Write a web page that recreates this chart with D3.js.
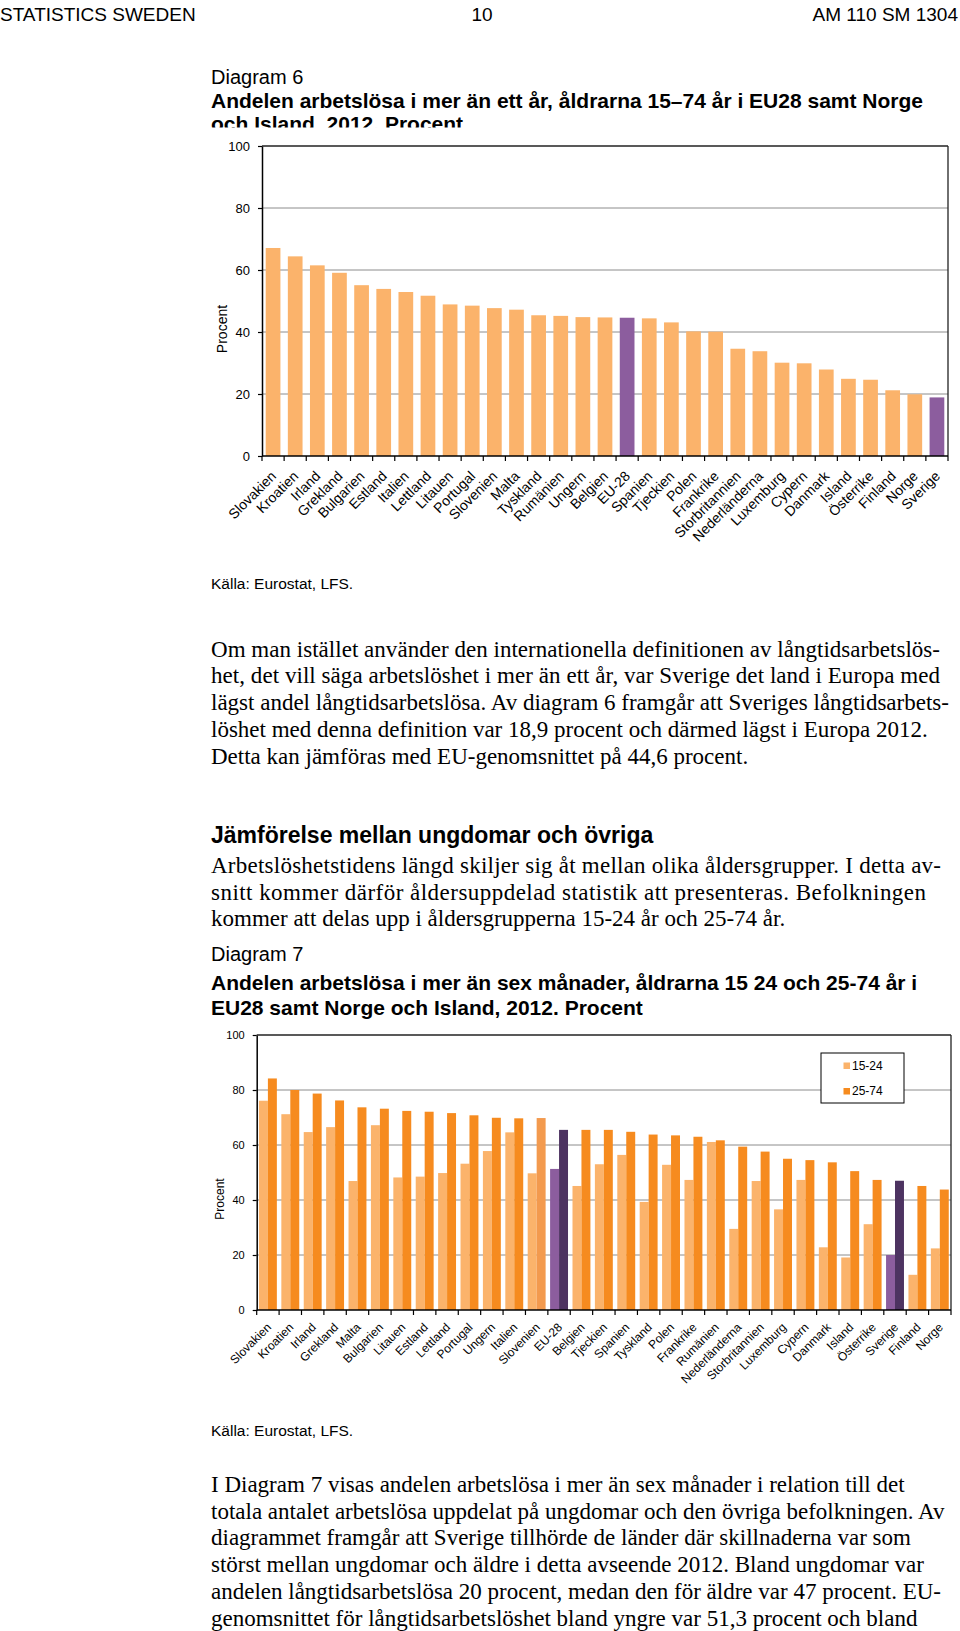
<!DOCTYPE html>
<html><head><meta charset="utf-8">
<script src="https://cdn.jsdelivr.net/npm/d3@7"></script>
<style>body{margin:0;background:#fff} svg{display:block}</style>
</head><body>
<svg id="page" width="960" height="1631"></svg>
<script>
// ---------- DATA ----------
const countries6 = ["Slovakien","Kroatien","Irland","Grekland","Bulgarien","Estland","Italien","Lettland","Litauen","Portugal","Slovenien","Malta","Tyskland","Rumänien","Ungern","Belgien","EU-28","Spanien","Tjeckien","Polen","Frankrike","Storbritannien","Nederländerna","Luxemburg","Cypern","Danmark","Island","Österrike","Finland","Norge","Sverige"];
const values6 = [67.1,64.4,61.5,59.1,55.1,53.9,52.9,51.7,48.9,48.5,47.7,47.2,45.4,45.2,44.8,44.7,44.6,44.4,43.1,40.2,40.1,34.6,33.8,30.1,29.9,27.9,24.9,24.6,21.2,19.9,18.9];
const highlight6 = ["EU-28","Sverige"];

const countries7 = ["Slovakien","Kroatien","Irland","Grekland","Malta","Bulgarien","Litauen","Estland","Lettland","Portugal","Ungern","Italien","Slovenien","EU-28","Belgien","Tjeckien","Spanien","Tyskland","Polen","Frankrike","Rumänien","Nederländerna","Storbritannien","Luxemburg","Cypern","Danmark","Island","Österrike","Sverige","Finland","Norge"];
const youth7 = [76.1,71.2,64.7,66.5,46.9,67.2,48.2,48.5,49.8,53.2,57.8,64.6,49.7,51.3,45.1,53.0,56.4,39.3,52.8,47.3,61.1,29.5,46.9,36.6,47.3,22.8,19.1,31.2,20.0,12.8,22.4];
const adult7 = [84.2,80.0,78.7,76.2,73.7,73.2,72.4,72.1,71.6,70.8,69.9,69.7,69.8,65.5,65.5,65.5,64.8,63.8,63.5,63.0,61.7,59.4,57.6,55.0,54.5,53.7,50.5,47.3,47.0,45.1,43.8];
const series7 = ["15-24","25-74"];
const highlight7 = ["EU-28","Sverige"];
const softAdult7 = ["Slovenien"];
const yTicks = [0,20,40,60,80,100];

// ---------- TEXT ----------
const header = ["STATISTICS SWEDEN","10","AM 110 SM 1304"];
const diag6Title = ["Diagram 6","Andelen arbetslösa i mer än ett år, åldrarna 15–74 år i EU28 samt Norge","och Island, 2012. Procent"];
const source = "Källa: Eurostat, LFS.";
const para1 = ["Om man istället använder den internationella definitionen av långtidsarbetslös-","het, det vill säga arbetslöshet i mer än ett år, var Sverige det land i Europa med","lägst andel långtidsarbetslösa. Av diagram 6 framgår att Sveriges långtidsarbets-","löshet med denna definition var 18,9 procent och därmed lägst i Europa 2012.","Detta kan jämföras med EU-genomsnittet på 44,6 procent."];
const heading2 = "Jämförelse mellan ungdomar och övriga";
const para2 = ["Arbetslöshetstidens längd skiljer sig åt mellan olika åldersgrupper. I detta av-","snitt kommer därför åldersuppdelad statistik att presenteras. Befolkningen","kommer att delas upp i åldersgrupperna 15-24 år och 25-74 år."];
const diag7Title = ["Diagram 7","Andelen arbetslösa i mer än sex månader, åldrarna 15 24 och 25-74 år i","EU28 samt Norge och Island, 2012. Procent"];
const para3 = ["I Diagram 7 visas andelen arbetslösa i mer än sex månader i relation till det","totala antalet arbetslösa uppdelat på ungdomar och den övriga befolkningen. Av","diagrammet framgår att Sverige tillhörde de länder där skillnaderna var som","störst mellan ungdomar och äldre i detta avseende 2012. Bland ungdomar var","andelen långtidsarbetslösa 20 procent, medan den för äldre var 47 procent. EU-","genomsnittet för långtidsarbetslöshet bland yngre var 51,3 procent och bland"];
// justified line widths (null = natural)
const fit1 = [729,729,null,null,null];
const fit2 = [730,715,null];

// ---------- STYLE ----------
const SANS = "'Liberation Sans', Arial, Helvetica, sans-serif";
const SERIF = "'Liberation Serif', 'Times New Roman', serif";
const C_LIGHT = "#fbb36b", C_DARK = "#f68b1f", C_SOFT = "#f39a4e";
const C_PURPLE = "#8c5d9e", C_PURPLE_DARK = "#4d3361";
const GRID = "#8c8c8c";

const svg = d3.select("#page");
svg.append("rect").attr("width",960).attr("height",1631).attr("fill","#fff");

function txt(x,y,s,size,opt={}){
  const t = svg.append("text").attr("x",x).attr("y",y).text(s)
    .attr("font-family",opt.family||SANS).attr("font-size",size)
    .attr("font-weight",opt.bold?"bold":"normal")
    .attr("text-anchor",opt.anchor||"start").attr("fill","#000");
  if(opt.fit) t.attr("textLength",opt.fit).attr("lengthAdjust","spacing");
  return t;
}
function lines(arr,x,y0,lh,size,opt,fits){
  arr.forEach((s,i)=>txt(x,y0+i*lh,s,size,Object.assign({},opt,{fit:fits?fits[i]:null})));
}

// header
txt(0,21,header[0],19);
txt(482,21,header[1],19,{anchor:"middle"});
txt(958,21,header[2],19,{anchor:"end"});

// Diagram 6 title
txt(211,84,diag6Title[0],20);
txt(211,108,diag6Title[1],21,{bold:true});
txt(211,131,diag6Title[2],21,{bold:true});
// chart picture background clips the title
svg.append("rect").attr("x",195).attr("y",127.5).attr("width",765).attr("height",440).attr("fill","#fff");

// ---------- CHART helpers ----------
function grid(g,L,R,y){
  g.selectAll(".grid").data(yTicks.filter(t=>t>0&&t<100)).join("line")
    .attr("x1",L).attr("x2",R).attr("y1",d=>y(d)).attr("y2",d=>y(d))
    .attr("stroke",GRID).attr("stroke-width",1);
}
function borders(g,L,R,T,B,y,tickFont,xScale,n){
  g.append("line").attr("x1",L).attr("x2",R).attr("y1",T).attr("y2",T).attr("stroke","#222").attr("stroke-width",1.3);
  g.append("line").attr("x1",R).attr("x2",R).attr("y1",T).attr("y2",B).attr("stroke","#222").attr("stroke-width",1.3);
  const ax = g.append("g").attr("transform",`translate(${L},0)`)
    .call(d3.axisLeft(y).tickValues(yTicks).tickSize(4).tickSizeOuter(0).tickPadding(8));
  ax.select(".domain").attr("stroke","#000").attr("stroke-width",1.5);
  ax.selectAll(".tick line").attr("stroke","#000").attr("stroke-width",1.2);
  ax.selectAll(".tick text").attr("font-family",SANS).attr("font-size",tickFont).attr("fill","#000");
  g.append("line").attr("x1",L).attr("x2",R).attr("y1",B).attr("y2",B).attr("stroke","#000").attr("stroke-width",1.5);
  const step = xScale.step();
  g.selectAll(".xt").data(d3.range(n+1)).join("line")
    .attr("x1",i=>L+i*step).attr("x2",i=>L+i*step).attr("y1",B).attr("y2",B+5)
    .attr("stroke","#000").attr("stroke-width",1.2);
}
function xLabels(g,cats,xScale,B,font,dx,dy){
  g.selectAll(".xl").data(cats).join("text")
    .attr("transform",d=>`translate(${xScale(d)+xScale.bandwidth()/2+dx},${B+dy}) rotate(-45)`)
    .attr("text-anchor","end").attr("font-family",SANS).attr("font-size",font).attr("fill","#000")
    .text(d=>d);
}

// ---------- CHART 1 ----------
{
  const L=262,R=948,T=146,B=456;
  const g = svg.append("g");
  const x = d3.scaleBand().domain(countries6).range([L,R]).paddingInner(0.335).paddingOuter(0.1675);
  const y = d3.scaleLinear().domain([0,100]).range([B,T]);
  grid(g,L,R,y);
  g.selectAll(".bar").data(countries6).join("rect")
    .attr("x",d=>x(d)).attr("width",x.bandwidth())
    .attr("y",(d,i)=>y(values6[i])).attr("height",(d,i)=>B-y(values6[i]))
    .attr("fill",d=>highlight6.includes(d)?C_PURPLE:C_LIGHT);
  borders(g,L,R,T,B,y,13,x,countries6.length);
  xLabels(g,countries6,x,B,14,4,21);
  g.append("text").attr("transform","translate(227,329) rotate(-90)").attr("text-anchor","middle")
    .attr("font-family",SANS).attr("font-size",14).text("Procent");
}
txt(211,589,source,15.5);

// body text 1
lines(para1,211,656.7,26.7,23,{family:SERIF},fit1);
txt(211,843,heading2,23,{bold:true});
lines(para2,211,873,26.7,23,{family:SERIF},fit2);
txt(211,961,diag7Title[0],20);
txt(211,990,diag7Title[1],21,{bold:true});
txt(211,1015,diag7Title[2],21,{bold:true});

// ---------- CHART 2 ----------
{
  const L=256.7,R=951,T=1035,B=1310;
  const g = svg.append("g");
  const x = d3.scaleBand().domain(countries7).range([L,R]).paddingInner(0.2).paddingOuter(0.1);
  const xs = d3.scaleBand().domain(series7).range([0,x.bandwidth()]);
  const y = d3.scaleLinear().domain([0,100]).range([B,T]);
  grid(g,L,R,y);
  const rows = countries7.map((c,i)=>({c, vals:[youth7[i],adult7[i]]}));
  const grp = g.selectAll(".grp").data(rows).join("g").attr("transform",d=>`translate(${x(d.c)},0)`);
  grp.selectAll("rect").data(d=>d.vals.map((v,j)=>({c:d.c,s:series7[j],v,j}))).join("rect")
    .attr("x",d=>xs(d.s)).attr("width",xs.bandwidth())
    .attr("y",d=>y(d.v)).attr("height",d=>B-y(d.v))
    .attr("fill",d=>{
      if(highlight7.includes(d.c)) return d.j===0?C_PURPLE:C_PURPLE_DARK;
      if(d.j===1 && softAdult7.includes(d.c)) return C_SOFT;
      return d.j===0?C_LIGHT:C_DARK;
    });
  borders(g,L,R,T,B,y,11,x,countries7.length);
  xLabels(g,countries7,x,B,12,4,18);
  g.append("text").attr("transform","translate(224,1199) rotate(-90)").attr("text-anchor","middle")
    .attr("font-family",SANS).attr("font-size",12).text("Procent");
  // legend
  const lg = g.append("g");
  lg.append("rect").attr("x",821).attr("y",1053).attr("width",83).attr("height",50)
    .attr("fill","#fff").attr("stroke","#000").attr("stroke-width",1);
  const li = lg.selectAll(".li").data(series7).join("g")
    .attr("transform",(d,i)=>`translate(843.5,${1062.5+i*25.5})`);
  li.append("rect").attr("width",6.5).attr("height",6.5).attr("fill",(d,i)=>i===0?C_LIGHT:C_DARK);
  li.append("text").attr("x",8.5).attr("y",7).attr("font-family",SANS).attr("font-size",12).text(d=>d);
}
txt(211,1436,source,15.5);

lines(para3,211,1491.7,26.8,23,{family:SERIF});
</script>
</body></html>
